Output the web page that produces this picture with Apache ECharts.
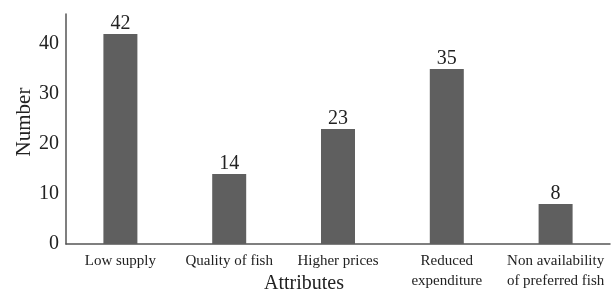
<!DOCTYPE html>
<html>
<head>
<meta charset="utf-8">
<script src="https://cdn.jsdelivr.net/npm/echarts@6/dist/echarts.min.js"></script>
<style>
  html, body { margin: 0; padding: 0; background: #fff; }
  #main { width: 611px; height: 291px; }
</style>
</head>
<body>
<div id="main"></div>
<script>
const categories = [
  "Low supply",
  "Quality of fish",
  "Higher prices",
  "Reduced\nexpenditure",
  "Non availability\nof preferred fish"
];
const counts = [42, 14, 23, 35, 8];
const yTicks = [0, 10, 20, 30, 40];

const serif = "Liberation Serif";
const axisColor = "#555";

const options = {
  animation: false,
  textStyle: { fontFamily: serif },
  grid: { left: 66, right: 1, top: 14, bottom: 47, outerBoundsMode: "none" },
  xAxis: {
    type: "category",
    data: categories,
    name: "Attributes",
    nameLocation: "middle",
    nameGap: 30,
    nameMoveOverlap: false,
    nameTextStyle: { fontFamily: serif, fontSize: 20, color: "#222", padding: [0, 68, 0, 0] },
    axisLine: { lineStyle: { color: axisColor, width: 1.5 } },
    axisTick: { show: false },
    axisLabel: { fontFamily: serif, fontSize: 15, color: "#222", margin: 7, lineHeight: 20, interval: 0 }
  },
  yAxis: {
    type: "value",
    min: 0,
    max: 46,
    interval: 10,
    name: "Number",
    nameLocation: "middle",
    nameGap: 31,
    nameMoveOverlap: false,
    nameTextStyle: { fontFamily: serif, fontSize: 21, color: "#222", padding: [0, 0, 0, 14] },
    axisLine: { show: true, lineStyle: { color: axisColor, width: 1.5 } },
    axisTick: { show: false },
    splitLine: { show: false },
    axisLabel: {
      fontFamily: serif, fontSize: 20, color: "#222", margin: 7,
      showMaxLabel: false,
      formatter: (v) => (yTicks.includes(v) ? String(v) : "")
    }
  },
  series: [
    {
      type: "bar",
      data: counts,
      barWidth: 34,
      itemStyle: { color: "#5f5f5f" },
      label: {
        show: true,
        position: "top",
        distance: 0,
        fontFamily: serif,
        fontSize: 20,
        color: "#222"
      }
    }
  ]
};

var myChart = echarts.init(document.querySelector("#main"));
myChart.setOption(options);
</script>
</body>
</html>
